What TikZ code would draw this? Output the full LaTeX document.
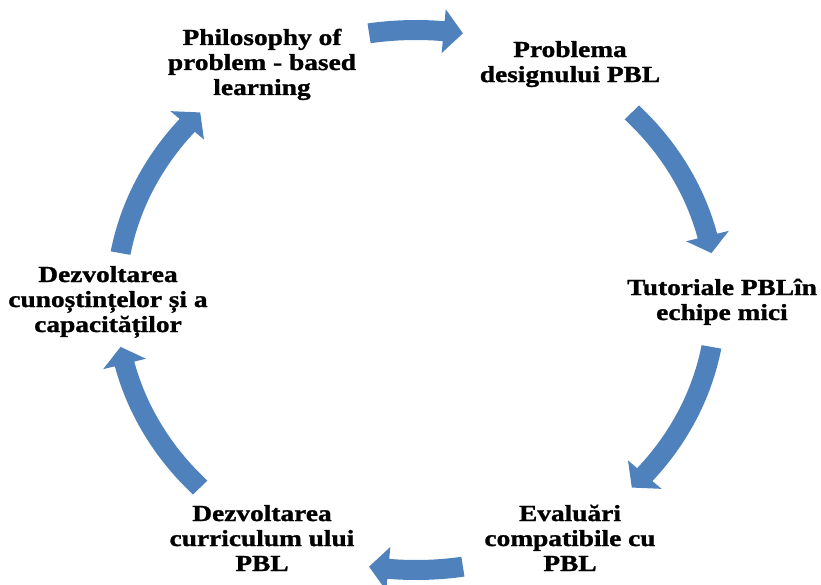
\documentclass[tikz,border=0pt]{standalone}
\usepackage{fontspec}
\usepackage{tikz}
\usetikzlibrary{positioning, calc}
\newfontfamily\cyclefont[FakeStretch=1.19, BoldFeatures={FakeBold=1.2}]{Liberation Serif}
\definecolor{arrowblue}{RGB}{79,129,189}
\tikzstyle{step_text} = [font=\cyclefont\bfseries\fontsize{23}{25}\selectfont, align=center, inner sep=0pt, anchor=base]
\tikzstyle{arrow_fill} = [fill=arrowblue, draw=none]
% curved block arrow on the ring, from angle #1 down to tip at angle #2
\newcommand{\cyclearrow}[2]{%
  \pgfmathsetmacro{\hb}{#2+3.7}%
  \fill[arrow_fill] ({310*cos(#1)},{280*sin(#1)})
    arc[start angle=#1, end angle=\hb, x radius=310, y radius=280]
    -- ({322*cos(\hb)},{292*sin(\hb)})
    -- ({300*cos(#2)},{270*sin(#2)})
    -- ({278*cos(\hb)},{248*sin(\hb)})
    -- ({290*cos(\hb)},{260*sin(\hb)})
    arc[start angle=\hb, end angle=#1, x radius=290, y radius=260]
    -- cycle;}
\begin{document}
\begin{tikzpicture}[x=1pt, y=1pt]
        \useasboundingbox (-416,-284) rectangle (405,300);

        % Steps of the cycle (base = last line)
        \node[step_text] (philosophy) at (-154, 205) {Philosophy of\\problem - based\\learning};
        \node[step_text] (problema) at (154, 218) {Problema\\designului PBL};
        \node[step_text] (tutoriale) at (306, -20) {Tutoriale PBLîn\\echipe mici};
        \node[step_text] (evaluari) at (154, -271) {Evaluări\\compatibile cu\\PBL};
        \node[step_text] (curriculum) at (-154, -271) {Dezvoltarea\\curriculum ului\\PBL};
        \node[step_text] (cunostinte) at (-308, -32) {Dezvoltarea\\cunoștințelor și a\\capacităților};

        % Arrows between the steps
        \cyclearrow{99}{81}
        \cyclearrow{44}{10}
        \cyclearrow{-10}{-44}
        \cyclearrow{-81}{-99}
        \cyclearrow{-136}{-170}
        \cyclearrow{170}{136}
    \end{tikzpicture}
\end{document}
